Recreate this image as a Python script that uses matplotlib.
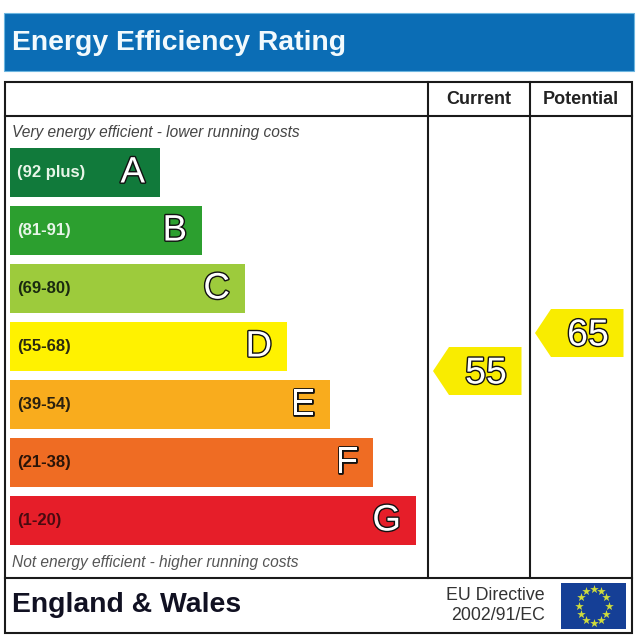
import numpy as np
import matplotlib
matplotlib.use("Agg")
import matplotlib.pyplot as plt
import matplotlib.patheffects as pe
from matplotlib.patches import Polygon, Rectangle

plt.rcParams['font.family'] = ['Liberation Sans', 'DejaVu Sans']

title = "Energy Efficiency Rating"
bands = ["A", "B", "C", "D", "E", "F", "G"]
ranges = ["(92 plus)", "(81-91)", "(69-80)", "(55-68)", "(39-54)", "(21-38)", "(1-20)"]
bar_ends = [160, 202, 245, 287, 330, 373, 416]
bar_colors = ["#117a3b", "#2c9f2f", "#9dcb3c", "#fff200", "#f9ac1d", "#ef6c23", "#e61e29"]
range_colors = ["#e8f5e8", "#e8f5e8", "#1a2a10", "#2a2a10", "#2a2010", "#2a1408", "#4a0a10"]
current_score = 55
potential_score = 65

fig = plt.figure(figsize=(6.4, 6.4), dpi=100, facecolor="white")
ax = fig.add_axes([0, 0, 1, 1])
ax.set_xlim(0, 640)
ax.set_ylim(640, 0)
ax.axis("off")

# Banner
ax.add_patch(Rectangle((4, 13), 630, 58, fc="#0b6db5", ec="#6cb6e0", lw=0.8))
ax.text(12, 42.5, title, color="#f2fafd", fontsize=20.4, fontweight="bold", va="center", ha="left")

# Frame
line = dict(color="#1a1a1a", lw=1.5, solid_capstyle="projecting")
ax.add_patch(Rectangle((5, 81.5), 627, 551.5, fc="none", ec="#1a1a1a", lw=1.5))
ax.plot([5, 632], [116, 116], **line)
ax.plot([5, 632], [578, 578], **line)
ax.plot([427.5, 427.5], [81.5, 578], **line)
ax.plot([529.5, 529.5], [81.5, 578], **line)

ax.text(478.5, 100, "Current", color="#222222", fontsize=13, fontweight="bold", ha="center", va="center")
ax.text(580.5, 100, "Potential", color="#222222", fontsize=13, fontweight="bold", ha="center", va="center")

ax.text(12, 132, "Very energy efficient - lower running costs", color="#444444", fontsize=11.2,
        style="italic", ha="left", va="center")
ax.text(12, 562.5, "Not energy efficient - higher running costs", color="#555555", fontsize=11.2,
        style="italic", ha="left", va="center")

# Bars
ys = 172.5 + 58 * np.arange(len(bands))
ax.barh(ys, np.array(bar_ends) - 10, left=10, height=49, color=bar_colors, linewidth=0)
outline = [pe.withStroke(linewidth=2.0, foreground="#111111")]
for y, end, band, rng, rc in zip(ys, bar_ends, bands, ranges, range_colors):
    ax.text(17, y, rng, color=rc, fontsize=12, fontweight="bold", ha="left", va="center")
    ax.text(end - 15, y + 0.5, band, color="white", fontsize=26.5, ha="right", va="center",
            path_effects=outline)

# Score arrows
def score_y(score):
    return 371 - (score - 55) * 3.8

def arrow(x_tip, score):
    cy = score_y(score)
    pts = [(x_tip, cy), (x_tip + 16, cy - 24), (x_tip + 88.5, cy - 24),
           (x_tip + 88.5, cy + 24), (x_tip + 16, cy + 24)]
    ax.add_patch(Polygon(pts, closed=True, fc="#f9ec00", ec="none"))
    ax.text(x_tip + 53, cy + 2.5, str(score), color="white", fontsize=27, ha="center", va="center",
            path_effects=outline)

arrow(433, current_score)
arrow(535, potential_score)

# Footer
ax.text(12, 605, "England & Wales", color="#111122", fontsize=20.4, fontweight="bold", ha="left", va="center")
ax.text(545, 596, "EU Directive", color="#333333", fontsize=12.8, ha="right", va="center")
ax.text(545, 615, "2002/91/EC", color="#333333", fontsize=12.8, ha="right", va="center")

# EU flag
ax.add_patch(Rectangle((561, 583), 65, 46, fc="#153f96", ec="none"))
angles = np.deg2rad(np.arange(0, 360, 30))
ax.scatter(593.5 + 15 * np.sin(angles), 605.5 - 17 * np.cos(angles), marker="*", s=42, c="#cfdc3c", linewidths=0)

fig.savefig("out.png", dpi=100)
